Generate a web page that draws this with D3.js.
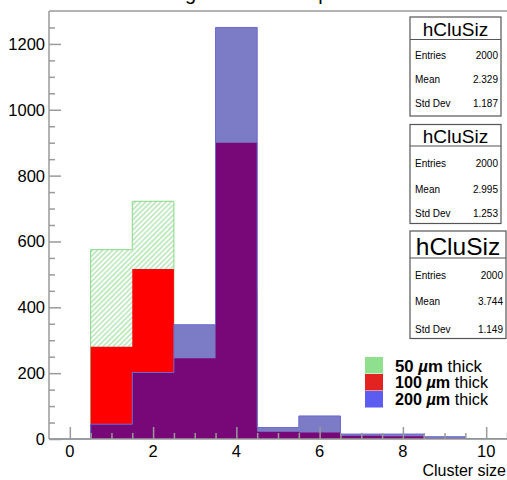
<!DOCTYPE html>
<html>
<head>
<meta charset="utf-8">
<script src="https://cdn.jsdelivr.net/npm/d3@7"></script>
<style>
  body { margin: 0; background: #fff; }
  svg { display: block; }
  text { font-family: "Liberation Sans", Arial, Helvetica, sans-serif; fill: #000; }
</style>
</head>
<body>
<div id="chart"></div>
<script>
/* Cluster size histograms for three sensor thicknesses */

const bins = [0, 1, 2, 3, 4, 5, 6, 7, 8, 9, 10];
const thick50 = [0, 575, 722, 240, 450, 10, 0, 0, 0, 3, 0];
const thick100 = [0, 280, 516, 245, 900, 22, 20, 10, 8, 2, 0];
const thick200 = [0, 45, 202, 347, 1250, 35, 70, 15, 15, 7, 1];

const legendLabels = ["50", "100", "200"];
const statNames = ["Entries", "Mean", "Std Dev"];
const statValues = [
  ["2000", "2.329", "1.187"],
  ["2000", "2.995", "1.253"],
  ["2000", "3.744", "1.149"]
];
const yTicks = [0, 200, 400, 600, 800, 1000, 1200];
const xTicks = [0, 2, 4, 6, 8, 10];

const width = 507, height = 480;

const svg = d3.select("#chart")
  .append("svg")
  .attr("width", width)
  .attr("height", height);

const x = d3.scaleLinear().domain([-0.5, 10.5]).range([49, 507]);
const y = d3.scaleLinear().domain([0, 1300]).range([439, 11]);

// hatch for the 50 um histogram
svg.append("defs")
  .append("pattern")
  .attr("id", "hatch")
  .attr("patternUnits", "userSpaceOnUse")
  .attr("width", 3.6)
  .attr("height", 3.6)
  .attr("patternTransform", "rotate(45)")
  .append("line")
  .attr("x1", 1).attr("y1", 0)
  .attr("x2", 1).attr("y2", 3.6)
  .attr("stroke", "#8fd88f")
  .attr("stroke-width", 1);

// bin edges -> step points
const steps = vals => bins.map((b, i) => ({x0: b - 0.5, v: vals[i]}))
  .concat([{x0: bins[bins.length - 1] + 0.5, v: vals[vals.length - 1]}]);

const area = d3.area()
  .x(d => x(d.x0))
  .y0(y(0))
  .y1(d => y(d.v))
  .curve(d3.curveStepAfter);

const line = d3.line()
  .x(d => x(d.x0))
  .y(d => y(d.v))
  .curve(d3.curveStepAfter);

const overlap = thick100.map((v, i) => Math.min(v, thick200[i]));

svg.append("path").attr("d", area(steps(thick50))).attr("fill", "url(#hatch)");
svg.append("path").attr("d", line(steps(thick50))).attr("fill", "none").attr("stroke", "#86d886").attr("stroke-width", 1);
svg.append("path").attr("d", area(steps(thick100))).attr("fill", "#ff0000");
svg.append("path").attr("d", area(steps(thick200))).attr("fill", "#7c7cc6");
svg.append("path").attr("d", area(steps(overlap))).attr("fill", "#780878");
svg.append("path").attr("d", line(steps(thick200))).attr("fill", "none").attr("stroke", "#6a6ad0").attr("stroke-width", 1);

// frame: top line and y axis
const axisColor = "#9a9a9a";
svg.append("line")
  .attr("x1", x(-0.5)).attr("x2", x(10.5))
  .attr("y1", y(1300)).attr("y2", y(1300))
  .attr("stroke", axisColor).attr("stroke-width", 1.5);

const yAxis = svg.append("g")
  .attr("transform", `translate(${x(-0.5)},0)`)
  .call(d3.axisRight(y).tickValues(d3.range(0, 1300, 50)).tickSize(6).tickFormat(""))
  .call(g => g.selectAll(".tick line")
    .attr("x2", d => d % 200 === 0 ? 12 : 6))
  .call(g => g.selectAll("line, path").attr("stroke", axisColor).attr("stroke-width", 1.5));
yAxis.select(".domain").attr("d", `M0,${y(0)}V${y(1300)}`);

svg.append("g")
  .selectAll("text")
  .data(yTicks)
  .join("text")
  .attr("x", 45)
  .attr("y", d => y(d))
  .attr("dy", "0.36em")
  .attr("text-anchor", "end")
  .attr("font-size", 16.5)
  .text(d => d);

// x axis
const xAxis = svg.append("g")
  .attr("transform", `translate(0,${y(0)})`)
  .call(d3.axisTop(x).tickValues(d3.range(0, 10.51, 0.5)).tickSize(6).tickFormat(""))
  .call(g => g.selectAll(".tick line")
    .attr("y2", d => d % 2 === 0 ? -12 : -6))
  .call(g => g.selectAll("line, path").attr("stroke", axisColor).attr("stroke-width", 1.5));
xAxis.select(".domain").attr("d", `M${x(-0.5)},0H${x(10.5)}`);

svg.append("g")
  .selectAll("text")
  .data(xTicks)
  .join("text")
  .attr("x", d => x(d))
  .attr("y", 457)
  .attr("text-anchor", "middle")
  .attr("font-size", 16.5)
  .text(d => d);

svg.append("text")
  .attr("x", 506)
  .attr("y", 476)
  .attr("text-anchor", "end")
  .attr("font-size", 16)
  .text("Cluster size");

// title, mostly above the visible area as in the source image
svg.append("text")
  .attr("x", 133)
  .attr("y", 0)
  .attr("font-size", 20)
  .text("Average cluster size per sensor");

// stat boxes
const boxes = [
  {x0: 410, x1: 501, top: 17, sep: 39.5, bottom: 116, tSize: 19, tBase: 35.5, rows: [58.5, 83, 106.5]},
  {x0: 410, x1: 501, top: 124.5, sep: 146, bottom: 223.5, tSize: 19, tBase: 143, rows: [166.5, 193, 216.5]},
  {x0: 410, x1: 506, top: 231, sep: 258, bottom: 338.5, tSize: 24.5, tBase: 254.5, rows: [278.5, 305, 333]}
];

boxes.forEach((b, k) => {
  const g = svg.append("g");
  g.append("rect")
    .attr("x", b.x0).attr("y", b.top)
    .attr("width", b.x1 - b.x0).attr("height", b.bottom - b.top)
    .attr("fill", "#fff").attr("stroke", "#555").attr("stroke-width", 1.2);
  g.append("line")
    .attr("x1", b.x0).attr("x2", b.x1)
    .attr("y1", b.sep).attr("y2", b.sep)
    .attr("stroke", "#555").attr("stroke-width", 1.2);
  g.append("text")
    .attr("x", (b.x0 + b.x1) / 2)
    .attr("y", b.tBase)
    .attr("text-anchor", "middle")
    .attr("font-size", b.tSize)
    .text("hCluSiz");
  g.selectAll(".nm")
    .data(statNames)
    .join("text")
    .attr("x", b.x0 + 5)
    .attr("y", (d, i) => b.rows[i])
    .attr("font-size", 10)
    .text(d => d);
  g.selectAll(".vl")
    .data(statValues[k])
    .join("text")
    .attr("x", b.x1 - 3)
    .attr("y", (d, i) => b.rows[i])
    .attr("text-anchor", "end")
    .attr("font-size", 10)
    .text(d => d);
});

// legend
const legendColors = ["#8ee08e", "#e32222", "#5c5cf0"];
const legendTops = [357, 374, 391];
const legendBases = [371.5, 388, 405];
const legendLens = [87, 93, 93];

const legend = svg.append("g");
legend.selectAll("rect")
  .data(legendLabels)
  .join("rect")
  .attr("x", 365)
  .attr("y", (d, i) => legendTops[i])
  .attr("width", 18)
  .attr("height", 16.5)
  .attr("fill", (d, i) => legendColors[i]);

const lt = legend.selectAll("text")
  .data(legendLabels)
  .join("text")
  .attr("x", 395)
  .attr("y", (d, i) => legendBases[i])
  .attr("font-size", 16)
  .attr("textLength", (d, i) => legendLens[i])
  .attr("lengthAdjust", "spacingAndGlyphs");
lt.append("tspan").attr("font-weight", "bold").text(d => d + " ");
lt.append("tspan").attr("font-weight", "bold").attr("font-style", "italic").text("\u00b5");
lt.append("tspan").attr("font-weight", "bold").text("m");
lt.append("tspan").text(" thick");
</script>
</body>
</html>
